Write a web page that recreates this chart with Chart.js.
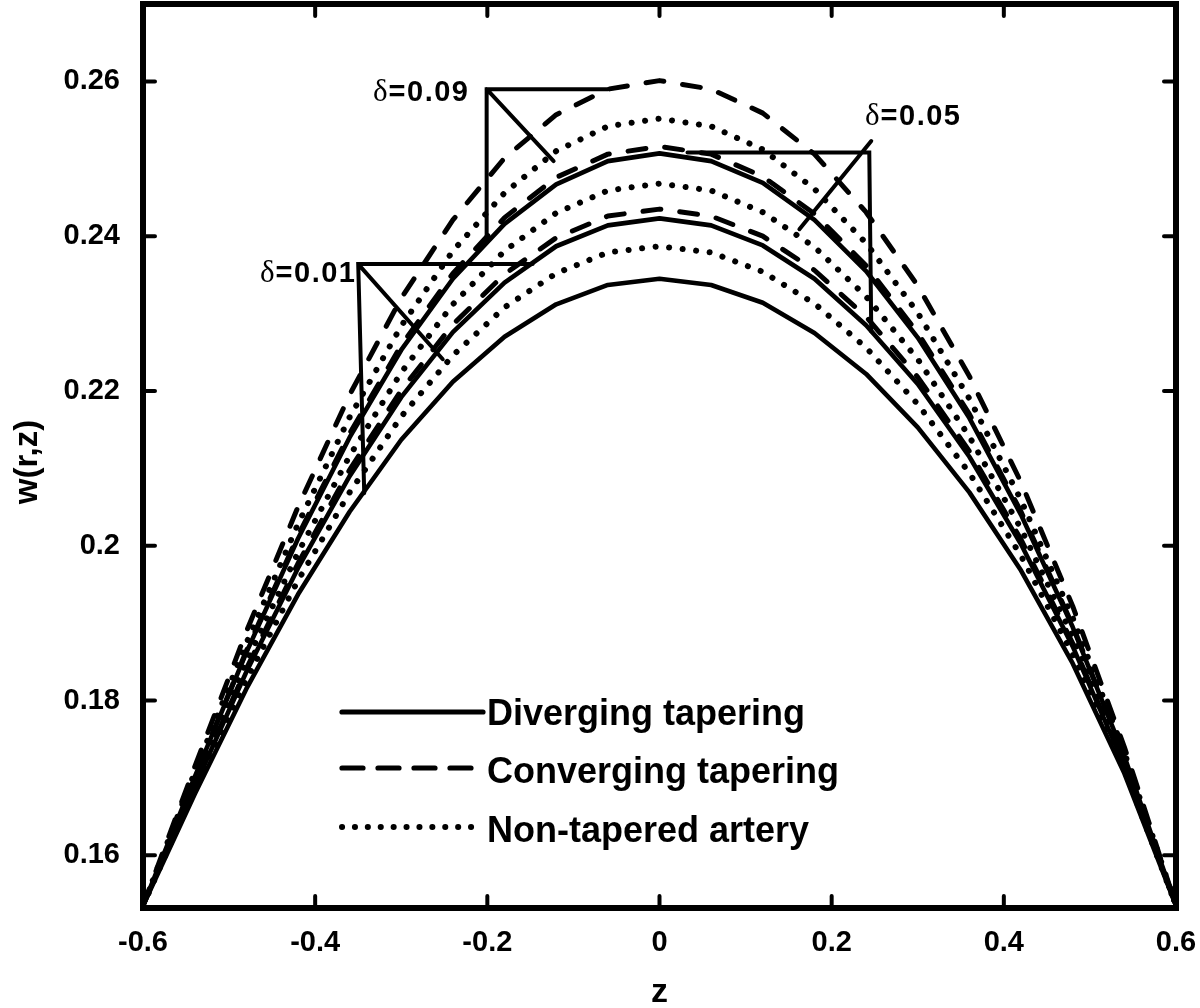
<!DOCTYPE html>
<html>
<head>
<meta charset="utf-8">
<script src="https://cdn.jsdelivr.net/npm/chart.js@4.4.1/dist/chart.umd.min.js"></script>
<style>
  html,body{margin:0;padding:0;background:#fff;}
  #c{display:block;}
</style>
</head>
<body>
<canvas id="c" width="1200" height="1008"></canvas>
<script>
// axial positions (21 samples)
const zValues = [-0.6,-0.54,-0.48,-0.42,-0.36,-0.3,-0.24,-0.18,-0.12,-0.06,0,0.06,0.12,0.18,0.24,0.3,0.36,0.42,0.48,0.54,0.6];

// diverging tapering (solid)
const divergingLow  = [0.1535,0.1679,0.1815,0.1937,0.2044,0.2137,0.2212,0.2270,0.2312,0.2337,0.2345,0.2337,0.2314,0.2275,0.2222,0.2153,0.2069,0.1968,0.1848,0.1706,0.1535];
const divergingMid  = [0.1535,0.1689,0.1837,0.1971,0.2090,0.2192,0.2276,0.2340,0.2387,0.2414,0.2423,0.2414,0.2388,0.2345,0.2285,0.2209,0.2115,0.2002,0.1870,0.1716,0.1535];
const divergingHigh = [0.1535,0.1701,0.1862,0.2009,0.2140,0.2253,0.2345,0.2416,0.2467,0.2497,0.2507,0.2497,0.2469,0.2421,0.2355,0.2269,0.2165,0.2040,0.1895,0.1728,0.1535];

// non-tapered artery (dotted)
const nonTaperedLow  = [0.1535,0.1685,0.1827,0.1955,0.2069,0.2167,0.2246,0.2308,0.2352,0.2379,0.2387,0.2379,0.2354,0.2313,0.2256,0.2183,0.2094,0.1987,0.1860,0.1711,0.1535];
const nonTaperedMid  = [0.1535,0.1695,0.1850,0.1991,0.2116,0.2224,0.2312,0.2381,0.2430,0.2459,0.2468,0.2459,0.2431,0.2386,0.2322,0.2241,0.2141,0.2022,0.1883,0.1722,0.1535];
const nonTaperedHigh = [0.1535,0.1707,0.1874,0.2028,0.2166,0.2284,0.2381,0.2456,0.2510,0.2542,0.2552,0.2542,0.2512,0.2461,0.2391,0.2301,0.2190,0.2059,0.1907,0.1733,0.1535];

// converging tapering (dashed)
const convergingLow  = [0.1535,0.1692,0.1841,0.1977,0.2098,0.2201,0.2286,0.2351,0.2398,0.2426,0.2435,0.2426,0.2400,0.2356,0.2296,0.2218,0.2122,0.2008,0.1874,0.1718,0.1535];
const convergingMid  = [0.1535,0.1702,0.1864,0.2013,0.2145,0.2259,0.2352,0.2424,0.2476,0.2506,0.2516,0.2506,0.2477,0.2429,0.2362,0.2275,0.2170,0.2044,0.1897,0.1729,0.1535];
const convergingHigh = [0.1535,0.1714,0.1889,0.2050,0.2195,0.2320,0.2421,0.2501,0.2557,0.2590,0.2601,0.2590,0.2559,0.2506,0.2431,0.2336,0.2219,0.2082,0.1922,0.1740,0.1535];

const xTicks = [-0.6,-0.4,-0.2,0,0.2,0.4,0.6];
const yTicks = [0.16,0.18,0.2,0.22,0.24,0.26];

const legendLabels = ['Diverging tapering','Converging tapering','Non-tapered artery'];

// delta brackets, in data units: corner, horizontal end, vertical end, diagonal end
const bracketLabels = ['0.01','0.09','0.05'];
const bracketCorner = [[-0.350,0.2364],[-0.2008,0.2590],[0.2437,0.2508]];
const bracketHoriz  = [[-0.1474,0.2364],[-0.060,0.2590],[0.0325,0.2508]];
const bracketVert   = [[-0.343,0.2068],[-0.2008,0.2394],[0.2460,0.2277]];
const bracketDiag   = [[-0.2518,0.2241],[-0.123,0.2497],[0.1625,0.2409]];
const bracketDiagStart = [[-0.350,0.2364],[-0.2008,0.2590],[0.2460,0.2523]];

const STYLES = {
  solid:  { borderWidth: 4.6, borderDash: [] },
  dashed: { borderWidth: 5, borderDash: [18, 19] },
  dotted: { borderWidth: 6, borderDash: [0.1, 13.5] }
};

const seriesList = [
  { name: 'Diverging δ=0.01', values: divergingLow, style: 'solid' },
  { name: 'Diverging δ=0.05', values: divergingMid, style: 'solid' },
  { name: 'Diverging δ=0.09', values: divergingHigh, style: 'solid' },
  { name: 'Non-tapered δ=0.01', values: nonTaperedLow, style: 'dotted' },
  { name: 'Non-tapered δ=0.05', values: nonTaperedMid, style: 'dotted' },
  { name: 'Non-tapered δ=0.09', values: nonTaperedHigh, style: 'dotted' },
  { name: 'Converging δ=0.01', values: convergingLow, style: 'dashed' },
  { name: 'Converging δ=0.05', values: convergingMid, style: 'dashed' },
  { name: 'Converging δ=0.09', values: convergingHigh, style: 'dashed' }
];

const SANS = "'Liberation Sans', Arial, Helvetica, sans-serif";
const SERIF = "'Liberation Serif', 'Times New Roman', serif";
Chart.defaults.font.family = SANS;
Chart.defaults.color = '#000';

const datasets = seriesList.map(s => ({
  label: s.name,
  data: zValues.map((z, i) => ({ x: z, y: s.values[i] })),
  borderColor: '#000',
  borderWidth: STYLES[s.style].borderWidth,
  borderDash: STYLES[s.style].borderDash,
  borderCapStyle: 'round',
  borderJoinStyle: 'round',
  pointRadius: 0,
  tension: 0,
  fill: false
}));

// bracket annotations as plain line datasets (null splits the segments)
bracketLabels.forEach((lbl, i) => {
  const pt = p => ({ x: p[0], y: p[1] });
  datasets.push({
    label: 'bracket ' + lbl,
    data: [pt(bracketHoriz[i]), pt(bracketCorner[i]), pt(bracketVert[i]), { x: bracketVert[i][0], y: null },
           pt(bracketDiagStart[i]), pt(bracketDiag[i])],
    borderColor: '#000',
    borderWidth: 4,
    borderCapStyle: 'round',
    pointRadius: 0,
    tension: 0,
    spanGaps: false,
    fill: false
  });
});

const fmt = v => String(parseFloat(Number(v).toFixed(2)));

// frame, inward ticks, legend, labels, axis titles
const decorPlugin = {
  id: 'decor',
  afterDraw(chart){
    const ctx = chart.ctx;
    const a = chart.chartArea;
    const xs = chart.scales.x, ys = chart.scales.y;
    ctx.save();
    ctx.strokeStyle = '#000';
    ctx.fillStyle = '#000';

    // ticks
    ctx.lineWidth = 4;
    ctx.lineCap = 'round';
    const tl = 12;
    xTicks.forEach(v => {
      const px = xs.getPixelForValue(v);
      ctx.beginPath();
      ctx.moveTo(px, a.bottom); ctx.lineTo(px, a.bottom - tl);
      ctx.moveTo(px, a.top); ctx.lineTo(px, a.top + tl);
      ctx.stroke();
    });
    yTicks.forEach(v => {
      const py = ys.getPixelForValue(v);
      ctx.beginPath();
      ctx.moveTo(a.left, py); ctx.lineTo(a.left + tl, py);
      ctx.moveTo(a.right, py); ctx.lineTo(a.right - tl, py);
      ctx.stroke();
    });

    // frame
    ctx.lineWidth = 6;
    ctx.lineCap = 'butt';
    ctx.lineJoin = 'miter';
    ctx.strokeRect(a.left, a.top, a.right - a.left, a.bottom - a.top);

    // legend
    const legX0 = 342, legX1 = 483;
    const legLineY = [712, 768, 827];
    const legBase = [725, 783, 842];
    const legStyles = ['solid', 'dashed', 'dotted'];
    legendLabels.forEach((txt, i) => {
      const st = STYLES[legStyles[i]];
      ctx.lineWidth = legStyles[i] === 'dotted' ? 6 : 5.2;
      ctx.lineCap = 'round';
      ctx.setLineDash(legStyles[i] === 'dashed' ? [21, 15] : legStyles[i] === 'dotted' ? [0.1, 12.8] : []);
      ctx.beginPath();
      ctx.moveTo(legX0, legLineY[i]);
      ctx.lineTo(legX1, legLineY[i]);
      ctx.stroke();
      ctx.setLineDash([]);
      ctx.font = 'bold 36px ' + SANS;
      ctx.textAlign = 'left';
      ctx.textBaseline = 'alphabetic';
      ctx.fillText(txt, 487, legBase[i]);
    });

    // delta labels
    const labelPos = [[260, 282], [373, 101], [865, 125]];
    bracketLabels.forEach((lbl, i) => {
      let x = labelPos[i][0];
      const y = labelPos[i][1];
      ctx.textAlign = 'left';
      ctx.textBaseline = 'alphabetic';
      ctx.font = '31px ' + SERIF;
      ctx.fillText('δ', x, y);
      x += ctx.measureText('δ').width + 1;
      ctx.font = 'bold 29px ' + SANS;
      ctx.letterSpacing = '1.5px';
      ctx.fillText('=' + lbl, x, y);
      ctx.letterSpacing = '0px';
    });

    // axis titles
    ctx.font = 'bold 34px ' + SANS;
    ctx.textAlign = 'center';
    ctx.textBaseline = 'alphabetic';
    ctx.fillText('z', xs.getPixelForValue(0), 1002);
    ctx.save();
    ctx.translate(28, 462);
    ctx.rotate(-Math.PI / 2);
    ctx.font = 'bold 33px ' + SANS;
    ctx.textBaseline = 'middle';
    ctx.fillText('w(r,z)', 0, 0);
    ctx.restore();

    ctx.restore();
  }
};

new Chart(document.getElementById('c'), {
  type: 'line',
  data: { datasets },
  options: {
    responsive: false,
    animation: false,
    layout: { padding: { top: 4, right: 24, left: 0, bottom: 0 } },
    plugins: { legend: { display: false }, tooltip: { enabled: false } },
    scales: {
      x: {
        type: 'linear',
        min: -0.6, max: 0.6,
        afterBuildTicks: s => { s.ticks = xTicks.map(v => ({ value: v })); },
        afterFit: s => { s.height = 100; s.paddingLeft = 0; s.paddingRight = 0; },
        grid: { display: false, drawTicks: false },
        border: { display: false },
        ticks: { font: { size: 29, weight: 'bold' }, color: '#000', padding: 18, maxRotation: 0, callback: v => fmt(v) }
      },
      y: {
        type: 'linear',
        min: 0.1532, max: 0.27,
        afterBuildTicks: s => { s.ticks = yTicks.map(v => ({ value: v })); },
        afterFit: s => { s.width = 143; s.paddingTop = 0; s.paddingBottom = 0; },
        grid: { display: false, drawTicks: false },
        border: { display: false },
        ticks: { font: { size: 29, weight: 'bold' }, color: '#000', padding: 23, callback: v => fmt(v) }
      }
    }
  },
  plugins: [decorPlugin]
});
</script>
</body>
</html>
